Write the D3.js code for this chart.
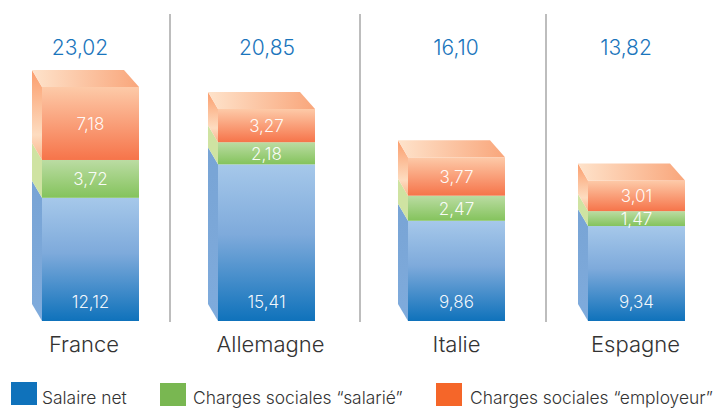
<!DOCTYPE html>
<html><head><meta charset="utf-8">
<script src="https://cdn.jsdelivr.net/npm/d3@7/dist/d3.min.js"></script>
<style>html,body{margin:0;padding:0;background:#fff;overflow:hidden}svg{display:block}text{font-family:Inter,"Open Sans",sans-serif}</style>
</head><body><svg id="c" width="715" height="408"></svg>
<script>
const countries = ["France","Allemagne","Italie","Espagne"];
const salaireNet = [12.12,15.41,9.86,9.34];
const chargesSalarie = [3.72,2.18,2.47,1.47];
const chargesEmployeur = [7.18,3.27,3.77,3.01];
const totals = [23.02,20.85,16.10,13.82];
const seriesKeys = ["net","salarie","employeur"];
const legendLabels = ["Salaire net","Charges sociales \u201csalari\u00e9\u201d","Charges sociales \u201cemployeur\u201d"];

const fmt = v => d3.format(".2f")(v).replace(".",",");
const W=715,H=408, barW=97, dx=10, dy=17;
const x = d3.scaleOrdinal(countries,[42,218,408,588]);
const catX = d3.scaleOrdinal(countries,[84,270.5,456.5,635.5]);
const totX = d3.scaleOrdinal(countries,[80,267,456,626]);
const y = d3.scaleLinear().domain([0,23.02]).range([321,87]);
const sepX = [170,360,546];

const svg = d3.select("#c");
const defs = svg.append("defs");
function grad(id,stops,horiz){
  const g=defs.append("linearGradient").attr("id",id).attr("x1",0).attr("y1",0).attr("x2",horiz?1:0).attr("y2",horiz?0:1);
  stops.forEach(s=>g.append("stop").attr("offset",s[0]).attr("stop-color",s[1]));
}
grad("f-net",[[0,"#a6c8ea"],[0.45,"#7eaadb"],[1,"#0f72bb"]]);
grad("f-salarie",[[0,"#bbdca3"],[1,"#84c35c"]]);
grad("f-employeur",[[0,"#fdcaa8"],[1,"#f6744a"]]);
grad("s-net",[[0,"#78a4d5"],[1,"#7fabdc"]]);
grad("s-salarie",[[0,"#cfe3a2"],[1,"#cfe3a2"]]);
grad("s-employeur",[[0,"#fb9d6c"],[0.72,"#fddcc0"],[1,"#fbb48c"]]);
grad("top",[[0,"#fee3cb"],[1,"#f9a67b"]],true);

const stack = d3.stack().keys(seriesKeys);
const rows = countries.map((c,i)=>({c,net:salaireNet[i],salarie:chargesSalarie[i],employeur:chargesEmployeur[i],total:totals[i]}));
const layers = stack(rows);
const poly = d3.line();

// separators
svg.selectAll(".sep").data(sepX).join("line").attr("x1",d=>d).attr("x2",d=>d)
  .attr("y1",14).attr("y2",322).attr("stroke","#9a9a9a").attr("stroke-width",1.3);

layers.forEach(layer=>{
  const k=layer.key;
  const g=svg.append("g");
  layer.forEach(d=>{
    const c=d.data.c, x0=x(c), y0=y(d[0]), y1=y(d[1]);
    g.append("path").attr("fill",`url(#s-${k})`)
      .attr("d",poly([[x0,y0],[x0,y1],[x0-dx,y1-dy],[x0-dx,y0-dy]])+"Z");
    g.append("rect").attr("x",x0).attr("y",y1).attr("width",barW).attr("height",y0-y1)
      .attr("fill",`url(#f-${k})`);
  });
});
// top faces
const topLayer = layers[layers.length-1];
svg.append("g").selectAll("path").data(topLayer).join("path").attr("fill","url(#top)")
  .attr("d",d=>{const x0=x(d.data.c),t=y(d[1]);
    return poly([[x0,t],[x0-dx,t-dy],[x0+barW-15,t-dy],[x0+barW,t]])+"Z";});

// segment labels
layers.forEach(layer=>{
  svg.append("g").selectAll("text").data(layer).join("text")
    .attr("x",d=>x(d.data.c)+barW/2).attr("text-anchor","middle")
    .attr("y",d=>(layer.key==="net"? y(0)-20 : (y(d[0])+y(d[1]))/2)+6.5)
    .attr("fill","#fff").attr("fill-opacity",0.95).attr("font-size",17).attr("font-weight",300)
    .text(d=>fmt(d[1]-d[0]));
});
// totals
svg.append("g").selectAll("text").data(rows).join("text")
  .attr("x",d=>totX(d.c)).attr("y",55).attr("text-anchor","middle")
  .attr("fill","#1a75bc").attr("font-size",21).attr("font-weight",300).text(d=>fmt(d.total));
// categories
svg.append("g").selectAll("text").data(rows).join("text")
  .attr("x",d=>catX(d.c)).attr("y",352).attr("text-anchor","middle")
  .attr("fill","#333").attr("font-size",22).attr("font-weight",300).text(d=>d.c);
// legend
const legendColors=["#0f72bb","#79b751","#f56629"];
const swX=[11,160,436], swY=[382,383,383], txX=[42,193,470];
legendLabels.forEach((t,i)=>{
  svg.append("rect").attr("x",swX[i]).attr("y",swY[i]).attr("width",26).attr("height",23).attr("fill",legendColors[i]);
  svg.append("text").attr("x",txX[i]).attr("y",403.5).attr("fill","#333").attr("font-size",17.4).attr("font-weight",300).text(t);
});
</script></body></html>
